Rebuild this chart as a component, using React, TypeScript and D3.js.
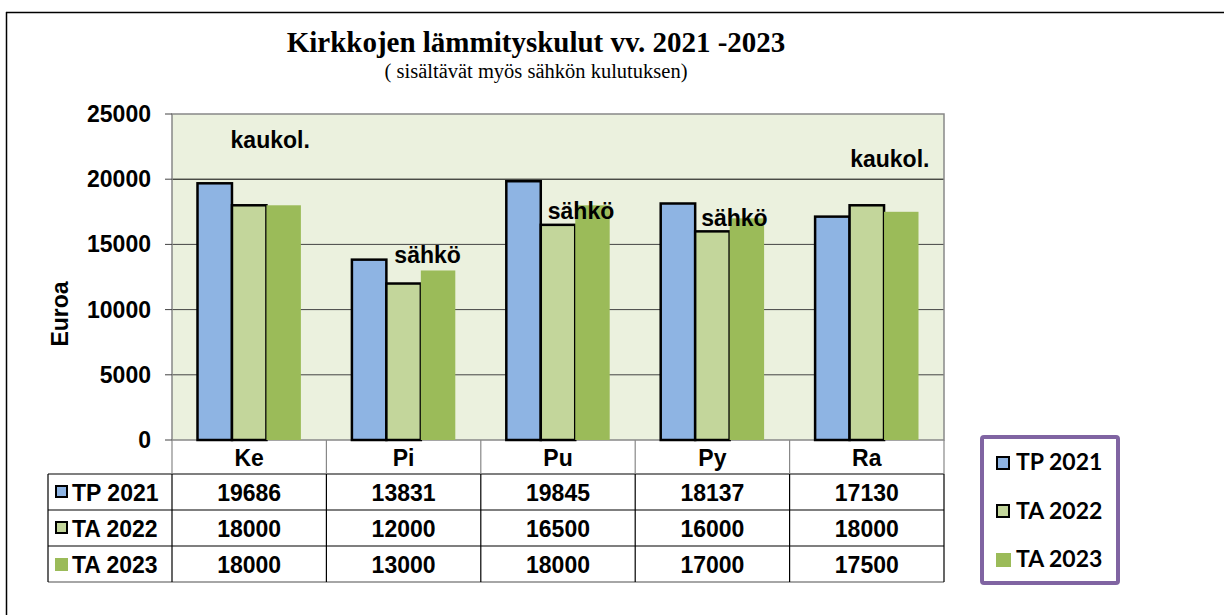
import React from 'react';
import * as d3 from 'd3';

const categories = ['Ke', 'Pi', 'Pu', 'Py', 'Ra'];
const seriesNames = ['TP 2021', 'TA 2022', 'TA 2023'];
const tp2021 = [19686, 13831, 19845, 18137, 17130];
const ta2022 = [18000, 12000, 16500, 16000, 18000];
const ta2023 = [18000, 13000, 18000, 17000, 17500];
const yTicks = [0, 5000, 10000, 15000, 20000, 25000];
const notes = [
  { cat: 'Ke', text: 'kaukol.', value: 22400, dx: 21 },
  { cat: 'Pi', text: 'sähkö', value: 13600, dx: 24 },
  { cat: 'Pu', text: 'sähkö', value: 16950, dx: 23 },
  { cat: 'Py', text: 'sähkö', value: 16400, dx: 22 },
  { cat: 'Ra', text: 'kaukol.', value: 20950, dx: 23 },
];

const seriesValues = [tp2021, ta2022, ta2023];
const fills = ['#8EB4E3', '#C3D69B', '#9BBB59'];
const strokes = ['#000', '#000', 'none'];

const W = 1224;
const H = 615;
const plot = { left: 172, right: 944, top: 114, bottom: 440 };
const rowH = 36;
const headerH = 34;
const tableLeft = 48;
const arial = '"Liberation Sans", Arial, sans-serif';
const fs = 23;

export default function App() {
  const x0 = d3.scaleBand<string>().domain(categories).range([plot.left, plot.right]).padding(0);
  const x1 = d3.scaleBand<string>().domain(seriesNames).range([0, x0.bandwidth()]).paddingInner(0).paddingOuter(0.74);
  const y = d3.scaleLinear().domain([0, 25000]).range([plot.bottom, plot.top]);

  const tableTop = plot.bottom;
  const rowsTop = tableTop + headerH;
  const tableBottom = rowsTop + rowH * seriesNames.length;

  return (
    <svg width={W} height={H} style={{ position: 'absolute', left: 0, top: 0, background: '#fff' }}>
      {/* outer frame (top + left visible) */}
      <line x1={6} x2={W} y1={12.5} y2={12.5} stroke="#000" strokeWidth={1.5} />
      <line x1={6.5} x2={6.5} y1={12} y2={H} stroke="#000" strokeWidth={1.5} />

      <text x={536} y={52} textAnchor="middle" fontFamily='"Liberation Serif", "Times New Roman", serif' fontWeight="bold" fontSize={29}>
        Kirkkojen lämmityskulut vv. 2021 -2023
      </text>
      <text x={536} y={78} textAnchor="middle" fontFamily='"Liberation Serif", "Times New Roman", serif' fontSize={20.5}>
        ( sisältävät myös sähkön kulutuksen)
      </text>

      {/* plot area */}
      <rect x={plot.left} y={plot.top} width={plot.right - plot.left} height={plot.bottom - plot.top} fill="#EBF1DE" />
      {yTicks.filter(t => t > 0 && t < 25000).map(t => (
        <line key={t} x1={plot.left} x2={plot.right} y1={y(t)} y2={y(t)} stroke={t === 20000 ? '#000' : '#444'} strokeWidth={1} />
      ))}
      <rect x={plot.left} y={plot.top} width={plot.right - plot.left} height={plot.bottom - plot.top} fill="none" stroke="#888" strokeWidth={1.5} />

      {/* y axis */}
      {yTicks.map(t => (
        <g key={t}>
          <line x1={plot.left - 7} x2={plot.left} y1={y(t)} y2={y(t)} stroke="#444" />
          <text x={151} y={y(t) + 8} textAnchor="end" fontFamily={arial} fontWeight="bold" fontSize={fs}>{t}</text>
        </g>
      ))}
      <text transform={`translate(68,${314}) rotate(-90)`} textAnchor="middle" fontFamily={arial} fontWeight="bold" fontSize={fs}>Euroa</text>

      {/* bars */}
      {seriesNames.map((s, si) =>
        categories.map((c, ci) => {
          const bx = (x0(c) ?? 0) + (x1(s) ?? 0);
          const v = seriesValues[si][ci];
          return (
            <rect key={s + c} x={bx} y={y(v)} width={x1.bandwidth()} height={y(0) - y(v)}
              fill={fills[si]} stroke={strokes[si]} strokeWidth={2.5} />
          );
        })
      )}

      {/* annotations */}
      {notes.map((n, i) => (
        <text key={i} x={(x0(n.cat) ?? 0) + x0.bandwidth() / 2 + n.dx} y={y(n.value)} textAnchor="middle"
          fontFamily={arial} fontWeight="bold" fontSize={fs}>{n.text}</text>
      ))}

      {/* data table */}
      {categories.map(c => (
        <text key={c} x={(x0(c) ?? 0) + x0.bandwidth() / 2} y={tableTop + 26} textAnchor="middle"
          fontFamily={arial} fontWeight="bold" fontSize={fs}>{c}</text>
      ))}
      {seriesNames.map((s, si) => (
        <g key={s}>
          <rect x={si < 2 ? 56 : 55} y={rowsTop + si * rowH + 12} width={si < 2 ? 11 : 13} height={si < 2 ? 11 : 13}
            fill={fills[si]} stroke={strokes[si]} strokeWidth={2} />
          <text x={72} y={rowsTop + si * rowH + 27} fontFamily={arial} fontWeight="bold" fontSize={fs}>{s}</text>
          {categories.map((c, ci) => (
            <text key={c} x={(x0(c) ?? 0) + x0.bandwidth() / 2} y={rowsTop + si * rowH + 27} textAnchor="middle"
              fontFamily={arial} fontWeight="bold" fontSize={fs}>{seriesValues[si][ci]}</text>
          ))}
        </g>
      ))}
      {/* table grid */}
      {d3.range(seriesNames.length).map(i => (
        <line key={i} x1={tableLeft} x2={plot.right} y1={rowsTop + i * rowH} y2={rowsTop + i * rowH} stroke="#000" strokeWidth={1.2} />
      ))}
      <line x1={tableLeft} x2={plot.right} y1={tableBottom} y2={tableBottom} stroke="#888" strokeWidth={1.5} />
      <line x1={tableLeft} x2={tableLeft} y1={rowsTop} y2={tableBottom} stroke="#000" strokeWidth={1.2} />
      {[...categories.map(c => x0(c) ?? 0), plot.right].map((vx, i) => (
        <g key={i}>
          <line x1={vx} x2={vx} y1={tableTop} y2={rowsTop} stroke="#888" strokeWidth={1.2} />
          <line x1={vx} x2={vx} y1={rowsTop} y2={tableBottom} stroke="#000" strokeWidth={1.2} />
        </g>
      ))}

      {/* legend */}
      <rect x={982} y={437} width={136} height={146} rx={2} fill="#fff" stroke="#8064A2" strokeWidth={4} />
      {seriesNames.map((s, si) => (
        <g key={s}>
          <rect x={si < 2 ? 997 : 996} y={si < 2 ? 457 + si * 48 : 553} width={si < 2 ? 12 : 15} height={si < 2 ? 12 : 14}
            fill={fills[si]} stroke={strokes[si]} strokeWidth={2} />
          <text x={1016} y={470 + si * 48.5} fontFamily='Lato, "Open Sans", sans-serif' fontWeight="bold" fontSize={23}>{s}</text>
        </g>
      ))}
    </svg>
  );
}
